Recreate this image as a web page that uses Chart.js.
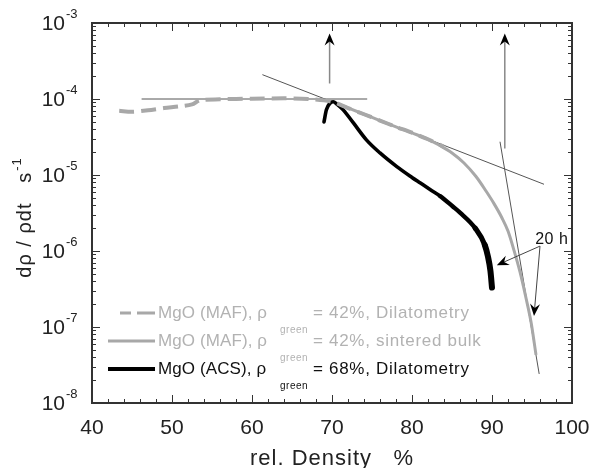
<!DOCTYPE html>
<html>
<head>
<meta charset="utf-8">
<script src="https://cdn.jsdelivr.net/npm/chart.js@4.4.0/dist/chart.umd.min.js"></script>
<style>
  body { margin: 0; background: #fff; }
  #chart { display: block; }
</style>
</head>
<body>
<canvas id="chart" width="591" height="468"></canvas>
<script>
// MgO (MAF), green density 42 %, dilatometer run
const mafDilDensity = [43.4, 45, 47, 49, 51, 52.5, 53.5, 56, 60, 64, 67, 70, 72, 74, 76, 78, 80, 82, 84];
const mafDilRate = [7.0e-5, 6.8e-5, 7.1e-5, 7.6e-5, 8.0e-5, 8.5e-5, 9.6e-5, 9.9e-5, 1.01e-4, 1.02e-4, 1.0e-4, 9.2e-5, 7.6e-5, 6.3e-5, 5.2e-5, 4.3e-5, 3.6e-5, 2.95e-5, 2.35e-5];

// MgO (MAF), 42 %, sintered bulk samples
const mafBulkDensity = [71, 74, 76, 78, 80, 82, 83.5, 85, 86.5, 88, 89.25, 90.25, 91.25, 92, 92.75, 93.5, 94.25, 94.9, 95.5];
const mafBulkRate = [8.4e-5, 6.3e-5, 5.2e-5, 4.3e-5, 3.58e-5, 2.95e-5, 2.44e-5, 1.95e-5, 1.44e-5, 9.55e-6, 6.15e-6, 4.2e-6, 2.72e-6, 1.83e-6, 1.02e-6, 5.3e-7, 2.41e-7, 1.13e-7, 4.3e-8];

// MgO (ACS), green density 68 %, dilatometer run
const acsDensity = [69.0, 69.3, 69.75, 70.15, 70.6, 71.4, 72.7, 74.3, 76, 78.1, 80, 81, 82.3, 83.5, 85.1, 86, 87.9, 89.1, 89.5, 89.8, 90.0];
const acsRate = [5.0e-5, 7.2e-5, 8.8e-5, 9.2e-5, 8.6e-5, 7.2e-5, 4.8e-5, 2.9e-5, 1.95e-5, 1.29e-5, 9.3e-6, 7.9e-6, 6.4e-6, 5.3e-6, 3.85e-6, 3.2e-6, 2.0e-6, 1.2e-6, 8.4e-7, 5.5e-7, 3.3e-7];

// axes
const xTicks = [40, 50, 60, 70, 80, 90, 100];
const yExponents = [-8, -7, -6, -5, -4, -3];

// legend text
const legendNames = ['MgO (MAF), \u03c1', 'MgO (MAF), \u03c1', 'MgO (ACS), \u03c1'];
const legendValues = ['= 42%, Dilatometry', '= 42%, sintered bulk', '= 68%, Dilatometry'];

// construction lines (density, rate)
const guideLines = [
  [[46.2, 1e-4], [74.4, 1e-4]],
  [[61.3, 2.09e-4], [96.5, 7.55e-6]],
  [[91.0, 2.74e-5], [95.9, 2.41e-8]]
];
// vertical arrows: density, rate at foot, rate at tip
const upArrows = [[69.7, 1.6e-4, 7.3e-4], [91.6, 2.24e-5, 7.3e-4]];
// "20 h" label and its two pointers
const holdLabel = { text: '20 h', x: 95.4, y: 1.24e-6 };
const holdFrom = [96.0, 1.16e-6];
const holdTo = [[90.6, 6.5e-7], [95.25, 1.4e-7]];

const toPoints = (xs, ys) => xs.map((x, i) => ({ x: x, y: ys[i] }));

const guideSets = guideLines.map(l => ({
  data: l.map(p => ({ x: p[0], y: p[1] })),
  borderColor: '#555',
  borderWidth: 1,
  pointRadius: 0
}));

// thicker stroke where the ACS signal gets noisy
const acsWidth = ctx => {
  const d = ctx.p0.parsed.x;
  if (d > 88.5) return 6;
  if (d > 86) return 5.2;
  if (d > 83) return 4.4;
  return 3.6;
};

function arrowHead(ctx, x, y, angle) {
  ctx.save();
  ctx.translate(x, y);
  ctx.rotate(angle);
  ctx.beginPath();
  ctx.moveTo(0, 0);
  ctx.lineTo(-12, -5);
  ctx.lineTo(-8, 0);
  ctx.lineTo(-12, 5);
  ctx.closePath();
  ctx.fillStyle = '#000';
  ctx.fill();
  ctx.restore();
}

const decorations = {
  id: 'decorations',
  afterDatasetsDraw(chart) {
    const ctx = chart.ctx;
    const xs = chart.scales.x, ys = chart.scales.y;
    const a = chart.chartArea;
    const font = 'Liberation Sans, Arial, sans-serif';
    ctx.save();

    // vertical arrows
    upArrows.forEach(ar => {
      const px = xs.getPixelForValue(ar[0]);
      const y0 = ys.getPixelForValue(ar[1]);
      const y1 = ys.getPixelForValue(ar[2]);
      ctx.strokeStyle = '#888';
      ctx.lineWidth = 1.5;
      ctx.beginPath();
      ctx.moveTo(px, y0);
      ctx.lineTo(px, y1 + 6);
      ctx.stroke();
      arrowHead(ctx, px, y1, -Math.PI / 2);
    });

    // 20 h pointers
    const fx = xs.getPixelForValue(holdFrom[0]), fy = ys.getPixelForValue(holdFrom[1]);
    holdTo.forEach(t => {
      const tx = xs.getPixelForValue(t[0]), ty = ys.getPixelForValue(t[1]);
      const ang = Math.atan2(ty - fy, tx - fx);
      ctx.strokeStyle = '#444';
      ctx.lineWidth = 1;
      ctx.beginPath();
      ctx.moveTo(fx, fy);
      ctx.lineTo(tx - 6 * Math.cos(ang), ty - 6 * Math.sin(ang));
      ctx.stroke();
      arrowHead(ctx, tx, ty, ang);
    });
    ctx.fillStyle = '#111';
    ctx.font = '16px ' + font;
    ctx.letterSpacing = '0.5px';
    ctx.textAlign = 'left';
    ctx.textBaseline = 'alphabetic';
    ctx.fillText(holdLabel.text, xs.getPixelForValue(holdLabel.x), ys.getPixelForValue(holdLabel.y));

    // frame
    ctx.strokeStyle = '#333';
    ctx.lineWidth = 2;
    ctx.strokeRect(a.left, a.top, a.right - a.left, a.bottom - a.top);

    // inward ticks on all four sides
    ctx.lineWidth = 1;
    ctx.strokeStyle = '#333';
    ctx.beginPath();
    for (let v = 40; v <= 100; v += 2) {
      const px = Math.round(xs.getPixelForValue(v)) + 0.5;
      const len = v % 10 === 0 ? 8 : 4;
      ctx.moveTo(px, a.bottom); ctx.lineTo(px, a.bottom - len);
      ctx.moveTo(px, a.top); ctx.lineTo(px, a.top + len);
    }
    yExponents.forEach(e => {
      for (let m = 1; m <= 9; m++) {
        const v = m * Math.pow(10, e);
        if (v > 1.0001e-3) break;
        const py = Math.round(ys.getPixelForValue(v)) + 0.5;
        const len = m === 1 ? 8 : 4;
        ctx.moveTo(a.left, py); ctx.lineTo(a.left + len, py);
        ctx.moveTo(a.right, py); ctx.lineTo(a.right - len, py);
      }
    });
    ctx.stroke();

    // tick labels
    ctx.fillStyle = '#222';
    ctx.letterSpacing = '0px';
    ctx.font = '21px ' + font;
    ctx.textAlign = 'center';
    ctx.textBaseline = 'middle';
    xTicks.forEach(v => ctx.fillText(String(v), xs.getPixelForValue(v), a.bottom + 25));
    yExponents.forEach(e => {
      const py = ys.getPixelForValue(Math.pow(10, e));
      ctx.font = '21px ' + font;
      ctx.textAlign = 'right';
      ctx.textBaseline = 'middle';
      ctx.fillText('10', a.left - 27, py + 1);
      ctx.font = '13px ' + font;
      ctx.textAlign = 'left';
      ctx.textBaseline = 'alphabetic';
      ctx.fillText('-' + String(-e), a.left - 26, py - 5);
    });

    // axis titles
    ctx.font = '22px ' + font;
    ctx.letterSpacing = '1px';
    ctx.textAlign = 'center';
    ctx.textBaseline = 'alphabetic';
    ctx.fillStyle = '#222';
    ctx.fillText('rel. Density   %', (a.left + a.right) / 2, 465);

    ctx.save();
    ctx.translate(31, 218);
    ctx.rotate(-Math.PI / 2);
    ctx.font = '20px ' + font;
    const main = 'd\u03c1 / \u03c1dt   s';
    const w1 = ctx.measureText(main).width;
    ctx.font = '13px ' + font;
    const w2 = ctx.measureText('-1').width;
    const start = -(w1 + w2) / 2;
    ctx.textAlign = 'left';
    ctx.font = '20px ' + font;
    ctx.fillText(main, start, 0);
    ctx.font = '13px ' + font;
    ctx.fillText('-1', start + w1 + 1, -10);
    ctx.restore();

    // legend
    const rowBase = [318, 346, 374];
    chart.data.datasets.slice(0, 3).forEach((ds, i) => {
      const base = rowBase[i];
      const ly = base - 5;
      ctx.strokeStyle = ds.borderColor;
      ctx.lineWidth = i === 2 ? 4 : 3;
      ctx.setLineDash([]);
      ctx.beginPath();
      if (ds.borderDash) {
        ctx.moveTo(120, ly); ctx.lineTo(131, ly);
        ctx.moveTo(137, ly); ctx.lineTo(155, ly);
      } else {
        ctx.moveTo(108, ly); ctx.lineTo(155, ly);
      }
      ctx.stroke();
      ctx.fillStyle = i === 2 ? '#111' : '#b2b2b2';
      ctx.textAlign = 'left';
      ctx.textBaseline = 'alphabetic';
      ctx.font = '17px ' + font;
      ctx.letterSpacing = '0.1px';
      ctx.fillText(legendNames[i], 158, base);
      ctx.font = '10px ' + font;
      ctx.letterSpacing = '0.5px';
      ctx.fillText('green', 280, base + 15);
      ctx.font = '17px ' + font;
      ctx.letterSpacing = '0.7px';
      ctx.fillText(legendValues[i], 313, base);
    });
    ctx.restore();
  }
};

new Chart(document.getElementById('chart'), {
  type: 'line',
  data: {
    datasets: [
      {
        label: 'MgO (MAF), 42%, Dilatometry',
        data: toPoints(mafDilDensity, mafDilRate),
        borderColor: '#a8a8a8',
        borderWidth: 4,
        borderDash: [15, 7],
        pointRadius: 0,
        tension: 0.3
      },
      {
        label: 'MgO (MAF), 42%, sintered bulk',
        data: toPoints(mafBulkDensity, mafBulkRate),
        borderColor: '#a8a8a8',
        borderWidth: 3,
        pointRadius: 0,
        cubicInterpolationMode: 'monotone'
      },
      {
        label: 'MgO (ACS), 68%, Dilatometry',
        data: toPoints(acsDensity, acsRate),
        borderColor: '#000',
        borderWidth: 3.6,
        borderJoinStyle: 'round',
        borderCapStyle: 'round',
        segment: { borderWidth: acsWidth },
        pointRadius: 0,
        cubicInterpolationMode: 'monotone'
      },
      ...guideSets
    ]
  },
  options: {
    responsive: false,
    devicePixelRatio: 1,
    animation: false,
    layout: { padding: { left: 92, top: 23, right: 19, bottom: 65 } },
    plugins: { legend: { display: false }, tooltip: { enabled: false } },
    scales: {
      x: { type: 'linear', min: 40, max: 100, display: false },
      y: { type: 'logarithmic', min: 1e-8, max: 1e-3, display: false }
    }
  },
  plugins: [decorations]
});
</script>
</body>
</html>
